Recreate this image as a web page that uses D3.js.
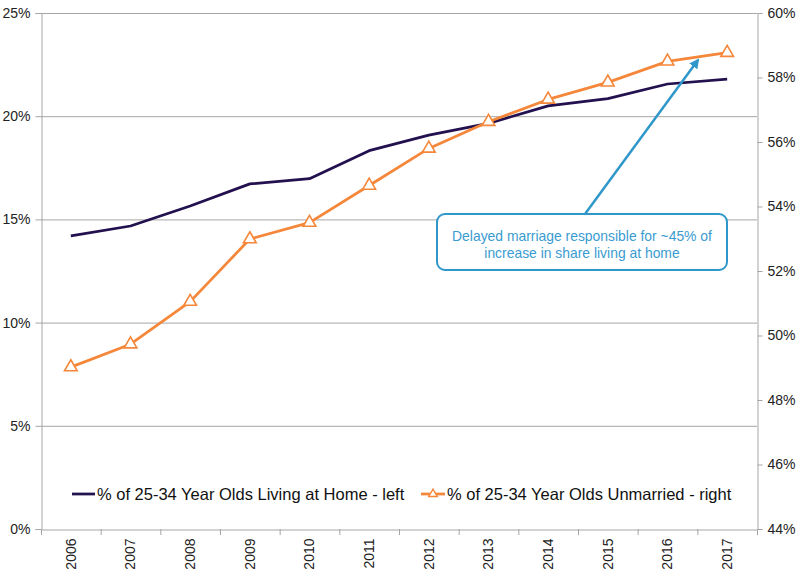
<!DOCTYPE html>
<html><head><meta charset="utf-8">
<script src="https://cdn.jsdelivr.net/npm/d3@7"></script>
<style>body{margin:0;background:#fff}svg{display:block;font-family:"Liberation Sans",Arial,sans-serif}</style>
</head><body>
<svg id="c" width="800" height="581"></svg>
<script>
const years = ["2006","2007","2008","2009","2010","2011","2012","2013","2014","2015","2016","2017"];
const livingAtHome = [14.2,14.68,15.65,16.72,16.97,18.33,19.08,19.65,20.5,20.85,21.56,21.8];
const unmarried = [49.02,49.73,51.05,52.99,53.5,54.65,55.8,56.63,57.32,57.85,58.5,58.77];
const leftTicks = [0,5,10,15,20,25];
const rightTicks = [44,46,48,50,52,54,56,58,60];
const legendLabels = ["% of 25-34 Year Olds Living at Home - left","% of 25-34 Year Olds Unmarried - right"];
const noteLines = ["Delayed marriage responsible for ~45% of","increase in share living at home"];

const navy = "#22104F", orange = "#F5873A", blue = "#2F97C9", grid = "#A6A6A6";
const L = 41, R = 757, T = 13, B = 529;
const svg = d3.select("#c");
const x = d3.scaleBand().domain(years).range([L, R]);
const yL = d3.scaleLinear().domain([0, 25]).range([B, T]);
const yR = d3.scaleLinear().domain([44, 60]).range([B, T]);
const cx = d => x(d) + x.bandwidth()/2;

// gridlines
svg.append("g").selectAll("line").data(leftTicks.filter(t=>t>0)).join("line")
  .attr("x1", L).attr("x2", R).attr("y1", d=>yL(d)+0.5).attr("y2", d=>yL(d)+0.5)
  .attr("stroke", grid).attr("stroke-width", 1);

// left axis
const gl = svg.append("g").attr("transform", `translate(${L+0.5},0)`)
  .call(d3.axisLeft(yL).tickValues(leftTicks).tickFormat(d=>d+"%").tickSize(6).tickPadding(5));
// right axis
const gr = svg.append("g").attr("transform", `translate(${R+0.5},0)`)
  .call(d3.axisRight(yR).tickValues(rightTicks).tickFormat(d=>d+"%").tickSize(5).tickPadding(5));
// bottom axis
const gb = svg.append("g").attr("transform", `translate(0,${B+0.5})`)
  .call(d3.axisBottom(x).tickSize(0).tickPadding(0));
gb.selectAll(".tick text").attr("transform","rotate(-90)").attr("text-anchor","end")
  .attr("x", -9).attr("y", 0).attr("dy","0.35em");
// boundary ticks for bottom axis
svg.append("g").selectAll("line").data(d3.range(years.length+1)).join("line")
  .attr("x1", i=>L + i*x.step()+0.5).attr("x2", i=>L + i*x.step()+0.5)
  .attr("y1", B).attr("y2", B+6).attr("stroke", grid);
[gl,gr,gb].forEach(g=>{
  g.selectAll(".domain").attr("stroke", grid);
  g.selectAll(".tick line").attr("stroke", grid);
  g.selectAll(".tick text").attr("fill","#222").style("font-size","14px")
   .style("font-family",'"Liberation Sans",Arial,sans-serif');
});

// lines
const lineL = d3.line().x((d,i)=>cx(years[i])).y(d=>yL(d));
const lineR = d3.line().x((d,i)=>cx(years[i])).y(d=>yR(d));
svg.append("path").attr("d", lineL(livingAtHome)).attr("fill","none")
  .attr("stroke", navy).attr("stroke-width", 2.75).attr("stroke-linejoin","round");
svg.append("path").attr("d", lineR(unmarried)).attr("fill","none")
  .attr("stroke", orange).attr("stroke-width", 2.75).attr("stroke-linejoin","round");
const tri = d3.symbol().type(d3.symbolTriangle).size(70);
svg.append("g").selectAll("path").data(unmarried).join("path")
  .attr("d", tri).attr("transform",(d,i)=>`translate(${cx(years[i])},${yR(d)})`)
  .attr("fill","#fff").attr("stroke", orange).attr("stroke-width", 1.6);

// legend
const lg = svg.append("g").style("font-size","16.5px").attr("fill","#111");
lg.append("line").attr("x1",72).attr("x2",95).attr("y1",494).attr("y2",494).attr("stroke",navy).attr("stroke-width",2.75);
lg.append("text").attr("x",97).attr("y",494).attr("dy","0.35em").text(legendLabels[0]);
lg.append("line").attr("x1",421).attr("x2",445).attr("y1",494).attr("y2",494).attr("stroke",orange).attr("stroke-width",2.75);
lg.append("path").attr("d", d3.symbol().type(d3.symbolTriangle).size(32)).attr("transform","translate(433,494)")
  .attr("fill","#fff").attr("stroke",orange).attr("stroke-width",1.4);
lg.append("text").attr("x",447).attr("y",494).attr("dy","0.35em").text(legendLabels[1]);

// annotation arrow
const defs = svg.append("defs");
defs.append("marker").attr("id","ah").attr("viewBox","0 0 10 10").attr("refX",8).attr("refY",5)
  .attr("markerWidth",4).attr("markerHeight",4).attr("orient","auto")
  .append("path").attr("d","M0,0L10,5L0,10z").attr("fill",blue);
svg.append("line").attr("x1",585).attr("y1",214).attr("x2",698).attr("y2",60)
  .attr("stroke",blue).attr("stroke-width",2.5).attr("marker-end","url(#ah)");
// annotation box
svg.append("rect").attr("x",437).attr("y",214).attr("width",290).attr("height",56).attr("rx",8)
  .attr("fill","#fff").attr("stroke",blue).attr("stroke-width",2);
svg.append("g").selectAll("text").data(noteLines).join("text")
  .attr("x",582).attr("y",(d,i)=>236+i*17).attr("dy","0.35em").attr("text-anchor","middle")
  .attr("fill","#3A9BD0").style("font-size","13.9px").text(d=>d);
</script>
</body></html>
